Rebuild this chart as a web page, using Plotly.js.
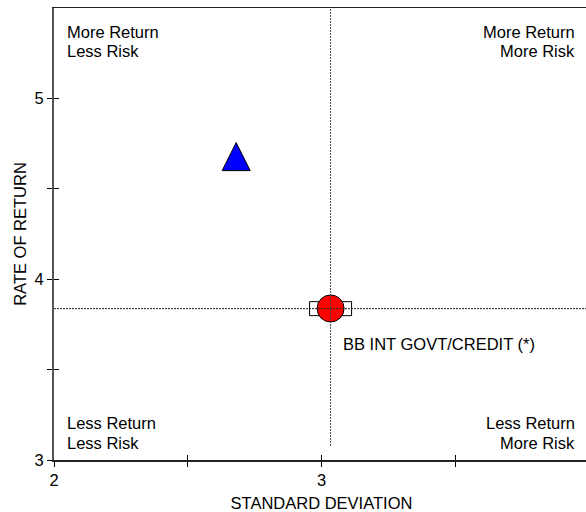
<!DOCTYPE html>
<html>
<head>
<meta charset="utf-8">
<script src="https://cdn.plot.ly/plotly-3.0.1.min.js"></script>
<style>
html, body { margin: 0; padding: 0; overflow: hidden; background: #fff; width: 586px; height: 512px; }
#chart { width: 591px; height: 512px; }
</style>
</head>
<body>
<div id="chart"></div>
<script>
// ---- data ----
var portfolioRisk = [2.681];
var portfolioReturn = [4.678];
var fundRisk = [3.034];
var fundReturn = [3.838];
var benchmarkName = "BB INT GOVT/CREDIT (*)";
var benchmarkRisk = [3.034];
var benchmarkReturn = [3.837];
var xTickVals = [2, 2.5, 3, 3.5, 4];
var xTickText = ["2", "", "3", "", "4"];
var yTickVals = [3, 3.5, 4, 4.5, 5];
var yTickText = ["3", "", "4", "", "5"];
var xRange = [2, 4];
var yRange = [3, 5.5];
var quadrantTop = ["More Return", "Less Risk"];
var quadrantTopRight = ["More Return", "More Risk"];
var quadrantBottom = ["Less Return", "Less Risk"];
var quadrantBottomRight = ["Less Return", "More Risk"];

var FONT = "Arial, 'Liberation Sans', sans-serif";
var FS = 16.5;

var traces = [
  {
    type: "scatter", mode: "markers",
    x: portfolioRisk, y: portfolioReturn,
    marker: { symbol: "arrow-down", angle: 180, standoff: 14, size: 28, color: "#0000ff", line: { color: "#000", width: 1 } },
    hoverinfo: "skip", showlegend: false
  },
  {
    type: "scatter", mode: "markers",
    x: fundRisk, y: fundReturn,
    marker: { symbol: "circle", size: 27, color: "#ff0000", line: { color: "#000", width: 1 } },
    hoverinfo: "skip", showlegend: false
  },
  {
    // empty helper trace so the overlay axes (inner half of the crossing ticks) are drawn
    type: "scatter", mode: "markers", x: [], y: [], xaxis: "x2", yaxis: "y2",
    hoverinfo: "skip", showlegend: false
  }
];

function qa(text, x, y, anchor) {
  return { text: text, xref: "paper", yref: "paper", x: x, y: y, xanchor: anchor, yanchor: "middle",
           borderpad: 0, showarrow: false, font: { family: FONT, size: FS, color: "#000" } };
}

var annotations = [
  qa(quadrantTop[0], 0.0225, 0.9458, "left"),
  qa(quadrantTop[1], 0.0225, 0.9038, "left"),
  qa(quadrantTopRight[0], 0.976, 0.9458, "right"),
  qa(quadrantTopRight[1], 0.976, 0.9038, "right"),
  qa(quadrantBottom[0], 0.0225, 0.0808, "left"),
  qa(quadrantBottom[1], 0.0225, 0.0387, "left"),
  qa(quadrantBottomRight[0], 0.976, 0.0808, "right"),
  qa(quadrantBottomRight[1], 0.976, 0.0387, "right"),
  {
    text: benchmarkName, xref: "x", yref: "y", x: benchmarkRisk[0], y: benchmarkReturn[0],
    xanchor: "left", yanchor: "middle", xshift: 10, yshift: -35, showarrow: false,
    font: { family: FONT, size: FS, color: "#000" }
  }
];

var shapes = [
  {
    type: "rect", xref: "x", yref: "y", layer: "below",
    xsizemode: "pixel", ysizemode: "pixel",
    xanchor: benchmarkRisk[0], yanchor: benchmarkReturn[0],
    x0: -21, x1: 21, y0: -7, y1: 7,
    line: { color: "#000", width: 1 }, fillcolor: "rgba(0,0,0,0)"
  },
  {
    type: "line", xref: "x", yref: "paper", layer: "above",
    x0: benchmarkRisk[0], x1: benchmarkRisk[0], y0: 0.031, y1: 1,
    line: { color: "#444", width: 1, dash: "2px,1px" }
  },
  {
    type: "line", xref: "paper", yref: "y", layer: "above",
    x0: 0, x1: 1, y0: benchmarkReturn[0], y1: benchmarkReturn[0],
    line: { color: "#222", width: 1, dash: "2px,1px" }
  }
];

var layout = {
  width: 591, height: 512,
  margin: { l: 54, r: 2, t: 8, b: 52 },
  paper_bgcolor: "#fff", plot_bgcolor: "#fff",
  font: { family: FONT, size: FS, color: "#000" },
  xaxis: {
    range: xRange, tickmode: "array", tickvals: xTickVals, ticktext: xTickText,
    ticks: "outside", ticklen: 5, tickwidth: 1, tickcolor: "#000",
    showline: true, linecolor: "#222", linewidth: 1.5, mirror: true,
    showgrid: false, zeroline: false, automargin: false,
    tickfont: { family: FONT, size: FS },
    title: { text: "STANDARD DEVIATION", font: { family: FONT, size: FS }, standoff: 11 }
  },
  yaxis: {
    range: yRange, tickmode: "array", tickvals: yTickVals, ticktext: yTickText,
    ticks: "outside", ticklen: 5, tickwidth: 1, tickcolor: "#000",
    showline: true, linecolor: "#555", linewidth: 2,
    showgrid: false, zeroline: false, automargin: false,
    tickfont: { family: FONT, size: FS },
    title: { text: "RATE OF RETURN", font: { family: FONT, size: FS }, standoff: 4 }
  },
  xaxis2: {
    overlaying: "x", anchor: "y", side: "bottom", range: xRange,
    tickmode: "array", tickvals: xTickVals, ticks: "inside", ticklen: 5, tickwidth: 1, tickcolor: "#000",
    showticklabels: false, showline: false, showgrid: false, zeroline: false
  },
  yaxis2: {
    overlaying: "y", anchor: "x", side: "left", range: yRange,
    tickmode: "array", tickvals: yTickVals, ticks: "inside", ticklen: 5, tickwidth: 1, tickcolor: "#000",
    showticklabels: false, showline: false, showgrid: false, zeroline: false
  },
  shapes: shapes,
  annotations: annotations,
  showlegend: false
};

Plotly.newPlot("chart", traces, layout, { staticPlot: true, displayModeBar: false });
</script>
</body>
</html>
